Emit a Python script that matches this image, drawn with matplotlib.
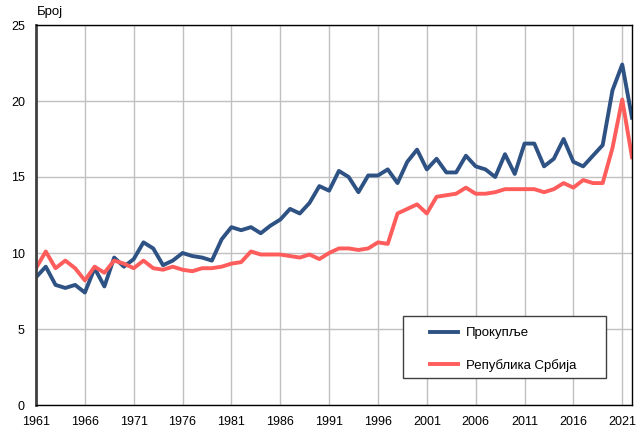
import matplotlib
matplotlib.use("Agg")
import matplotlib.pyplot as plt
from matplotlib.patches import Rectangle

plt.rcParams['font.family'] = ['Liberation Sans', 'DejaVu Sans']

years = list(range(1961, 2023))
prokuplje = [8.4, 9.1, 7.9, 7.7, 7.9, 7.4, 9.0, 7.8, 9.7, 9.1,
             9.6, 10.7, 10.3, 9.2, 9.5, 10.0, 9.8, 9.7, 9.5, 10.9,
             11.7, 11.5, 11.7, 11.3, 11.8, 12.2, 12.9, 12.6, 13.3, 14.4,
             14.1, 15.4, 15.0, 14.0, 15.1, 15.1, 15.5, 14.6, 16.0, 16.8,
             15.5, 16.2, 15.3, 15.3, 16.4, 15.7, 15.5, 15.0, 16.5, 15.2,
             17.2, 17.2, 15.7, 16.2, 17.5, 16.0, 15.7, 16.4, 17.1, 20.7,
             22.4, 18.9]
srbija = [9.0, 10.1, 9.0, 9.5, 9.0, 8.2, 9.1, 8.7, 9.5, 9.3,
          9.0, 9.5, 9.0, 8.9, 9.1, 8.9, 8.8, 9.0, 9.0, 9.1,
          9.3, 9.4, 10.1, 9.9, 9.9, 9.9, 9.8, 9.7, 9.9, 9.6,
          10.0, 10.3, 10.3, 10.2, 10.3, 10.7, 10.6, 12.6, 12.9, 13.2,
          12.6, 13.7, 13.8, 13.9, 14.3, 13.9, 13.9, 14.0, 14.2, 14.2,
          14.2, 14.2, 14.0, 14.2, 14.6, 14.3, 14.8, 14.6, 14.6, 16.9,
          20.1, 16.3]
series_names = ["Прокупље", "Република Србија"]
xticks = list(range(1961, 2022, 5))
yticks = [0, 5, 10, 15, 20, 25]

fig = plt.figure(figsize=(6.36, 4.28), dpi=100)
ax = fig.add_axes([36/636, 23/428, 596/636, 380/428])

ax.plot(years, prokuplje, color='#2e5283', lw=2.8, label=series_names[0])
ax.plot(years, srbija, color='#ff5c5c', lw=2.8, label=series_names[1])

ax.set_xlim(1961, 2022)
ax.set_ylim(0, 25)
ax.set_xticks(xticks)
ax.set_yticks(yticks)
ax.tick_params(axis='both', length=0, labelsize=9, colors='black')
ax.tick_params(axis='x', pad=8)
ax.tick_params(axis='y', pad=8)
ax.grid(True, color='#c0c0c0', lw=1.0)
ax.set_axisbelow(True)

ax.spines['left'].set_color('#404040')
ax.spines['left'].set_linewidth(2.0)
for s in ['top', 'right', 'bottom']:
    ax.spines[s].set_color('black')
    ax.spines[s].set_linewidth(1.0)

fig.text(37/636, 1 - 12/428, "Број", fontsize=9.5, va='center', ha='left')

# legend frame
frame = Rectangle(((403-36)/596, (405-378)/380), 203/596, 62/380,
                  transform=ax.transAxes, facecolor='white', edgecolor='#404040',
                  lw=1.0, zorder=4)
ax.add_patch(frame)
leg = ax.legend(loc='upper left', bbox_to_anchor=((430-36)/596, (405-327)/380),
                fontsize=9.5, frameon=False, borderpad=0, labelspacing=1.5,
                handlelength=2.1, handletextpad=0.6, borderaxespad=0)
leg.set_zorder(5)

fig.savefig("out.png", dpi=100)
